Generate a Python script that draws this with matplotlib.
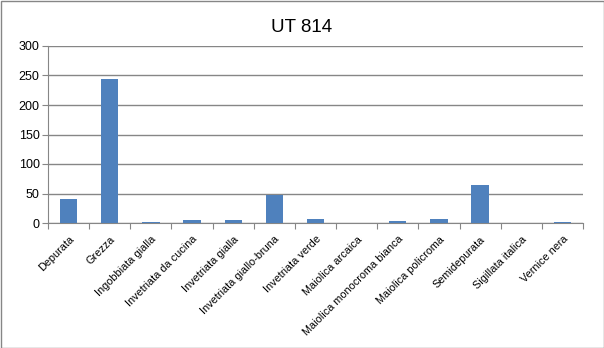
import matplotlib
matplotlib.use('Agg')
import matplotlib.pyplot as plt
import numpy as np

categories = ['Depurata', 'Grezza', 'Ingobbiata gialla', 'Invetriata da cucina',
              'Invetriata gialla', 'Invetriata giallo-bruna', 'Invetriata verde',
              'Maiolica arcaica', 'Maiolica monocroma bianca', 'Maiolica policroma',
              'Semidepurata', 'Sigillata italica', 'Vernice nera']
values = [41, 244, 2, 5, 5, 48, 7, 0, 4, 6, 65, 0, 2]
yticks = [0, 50, 100, 150, 200, 250, 300]

plt.rcParams['font.family'] = ['Liberation Sans', 'DejaVu Sans']

fig = plt.figure(figsize=(6.04, 3.48), dpi=100)
ax = fig.add_axes([48 / 604, 125 / 348, 535 / 604, 177 / 348])

x = np.arange(len(categories))
ax.bar(x, values, width=0.42, color='#4f81bd', zorder=3)

ax.set_xlim(-0.5, len(categories) - 0.5)
ax.set_ylim(0, 300)
ax.set_yticks(yticks)
ax.set_yticklabels([str(v) for v in yticks], fontsize=9)
ax.yaxis.grid(True, color='#868686', linewidth=1, zorder=0)

# category labels sit between the tick marks
ax.set_xticks(np.arange(len(categories) + 1) - 0.5)
ax.set_xticklabels([])
ax.set_xticks(x, minor=True)
ax.set_xticklabels(categories, minor=True, rotation=45, ha='right',
                   rotation_mode='anchor', fontsize=7.8)
ax.tick_params(axis='x', which='minor', length=0, pad=8)
ax.tick_params(axis='x', which='major', length=4, color='#868686')
ax.tick_params(axis='y', length=4, color='#868686', pad=2)

for s in ['top', 'right']:
    ax.spines[s].set_visible(False)
for s in ['left', 'bottom']:
    ax.spines[s].set_color('#868686')

fig.text(0.5, 1 - 28 / 348, 'UT 814', ha='center', va='center', fontsize=13.5)

# outer frame
fig.patches.append(plt.Rectangle((0.5 / 604, 0.5 / 348), 603 / 604, 347 / 348,
                                 transform=fig.transFigure, fill=False,
                                 edgecolor='#868686', linewidth=1))

fig.savefig('out.png', dpi=100)
